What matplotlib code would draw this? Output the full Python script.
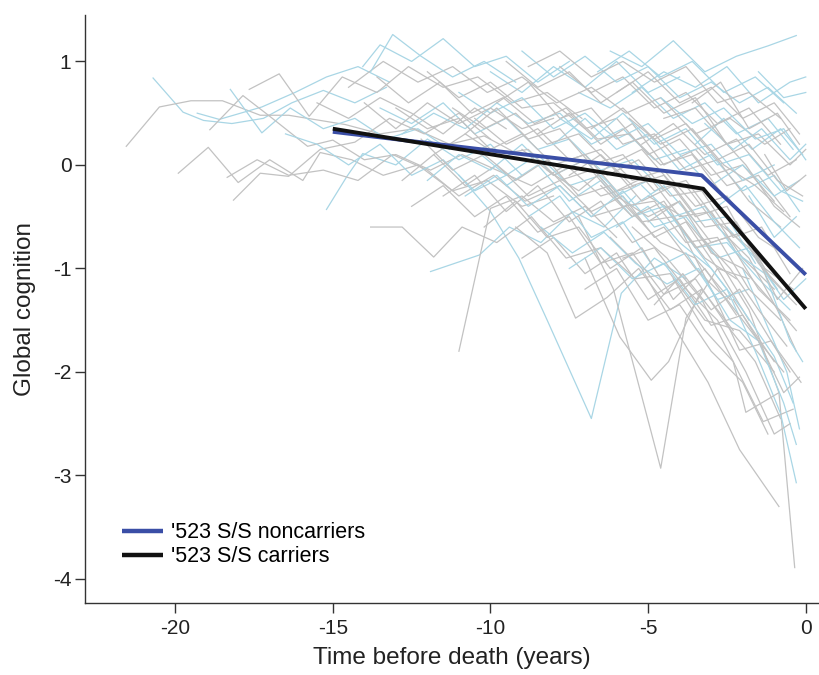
import matplotlib
matplotlib.use("Agg")
import matplotlib.pyplot as plt
import numpy as np

plt.rcParams['font.family'] = ['Liberation Sans', 'DejaVu Sans']

# Mean trajectories (change-point model)
noncarrier_t = [-15.0, -3.3, 0.0]
noncarrier_y = [0.32, -0.10, -1.06]
carrier_t = [-15.0, -3.25, 0.0]
carrier_y = [0.35, -0.23, -1.39]

# Individual trajectories of carriers (grey)
grey_traj = [
    [(-21.55,0.18),(-20.5,0.56),(-19.5,0.62),(-18.5,0.62),(-17.3,0.48),(-16.4,0.48),(-15.4,0.43),(-14.6,0.39),(-13.5,0.3),(-12.4,0.35),(-11.3,0.2),(-10.2,0.28),(-9.1,0.1)],
    [(-19.9,-0.08),(-18.95,0.17),(-18.0,-0.17),(-17.0,0.05),(-15.95,-0.15),(-15.4,0.12),(-14.4,0.05),(-13.4,-0.1),(-12.3,0.0),(-11.2,-0.25),(-10.1,-0.15),(-9.0,-0.4),(-8.0,-0.3)],
    [(-18.15,-0.34),(-17.3,-0.08),(-16.4,-0.11),(-15.4,0.15),(-14.3,0.22),(-13.2,0.45),(-12.1,0.3),(-11.0,0.5),(-10.0,0.25)],
    [(-18.9,0.34),(-17.85,0.67),(-17.0,0.47),(-15.8,0.18),(-15.0,0.24),(-14.0,0.05),(-13.0,0.1),(-11.9,-0.05),(-10.9,0.1),(-9.8,-0.05),(-8.7,-0.2),(-7.6,0.0),(-6.5,-0.3),(-5.4,-0.2)],
    [(-17.65,0.73),(-16.7,0.88),(-15.75,0.47),(-14.7,0.85),(-13.6,0.7),(-12.6,0.95),(-11.5,0.75),(-10.4,0.85),(-9.3,0.6),(-8.2,0.7),(-7.1,0.45)],
    [(-18.35,-0.12),(-17.4,0.05),(-16.4,-0.1),(-15.3,-0.05),(-14.2,-0.15),(-13.1,0.1),(-12.0,-0.05),(-11.0,-0.3),(-9.9,-0.1),(-8.9,-0.35),(-7.8,-0.2),(-6.8,-0.5),(-5.7,-0.4),(-4.6,-0.75),(-3.5,-0.9),(-2.4,-1.3)],
    [(-13.8,-0.6),(-12.8,-0.6),(-11.8,-0.89),(-10.9,-0.6),(-9.8,-0.75),(-8.7,-0.5),(-7.6,-0.9),(-6.5,-0.8),(-5.4,-1.1),(-4.3,-1.05),(-3.2,-1.5),(-2.1,-1.6),(-1.0,-2.0)],
    [(-11.0,-1.8),(-10.0,-0.42),(-9.0,-0.3),(-8.0,-0.55),(-7.0,-0.4),(-6.0,-0.7)],
    [(-7.2,-0.5),(-6.1,-1.2),(-4.6,-2.93),(-3.8,-1.48),(-2.8,-1.0),(-1.8,-1.5)],
    [(-7.0,-0.9),(-5.9,-1.66),(-4.9,-2.08),(-4.35,-1.9),(-3.3,-1.2),(-2.3,-1.6)],
    [(-5.0,-0.3),(-3.9,-0.5),(-2.8,-0.9),(-1.8,-1.4),(-0.85,-2.2),(-0.35,-3.89)],
    [(-6.2,-0.7),(-5.2,-1.0),(-4.1,-1.6),(-3.1,-2.1),(-2.1,-2.75),(-0.85,-3.3)],
    [(-5.5,-0.6),(-4.4,-0.9),(-3.3,-1.3),(-2.3,-1.9),(-1.9,-2.39),(-0.85,-2.2)],
    [(-4.2,-1.1),(-3.2,-1.6),(-2.3,-1.9),(-1.35,-2.48),(-0.4,-2.36)],
    [(-4.0,-0.6),(-3.0,-1.2),(-2.1,-1.79),(-1.1,-1.7),(-0.15,-2.1)],
    [(-12.0,0.9),(-11.0,0.65),(-10.0,0.8),(-9.0,0.55),(-8.0,0.6),(-7.0,0.35),(-6.0,0.45),(-5.0,0.1),(-4.0,0.25),(-3.0,-0.1),(-2.0,0.0),(-1.0,-0.35)],
    [(-14.5,0.75),(-13.4,1.0),(-12.3,0.8),(-11.2,0.95),(-10.1,0.7),(-9.0,0.85),(-7.9,0.6),(-6.8,0.75),(-5.7,0.5),(-4.6,0.65),(-3.5,0.3),(-2.4,0.45),(-1.3,0.2),(-0.5,0.35)],
    [(-10.5,0.45),(-9.5,0.2),(-8.5,0.35),(-7.5,0.05),(-6.5,0.15),(-5.5,-0.15),(-4.5,-0.05),(-3.5,-0.4),(-2.5,-0.3),(-1.5,-0.7),(-0.5,-0.9)],
    [(-9.0,-0.9),(-8.0,-0.7),(-7.0,-1.05),(-6.0,-0.85),(-5.0,-1.3),(-4.0,-1.1),(-3.0,-1.55),(-2.0,-1.45),(-1.0,-1.9)],
    [(-8.5,0.3),(-7.5,0.5),(-6.5,0.2),(-5.5,0.4),(-4.5,0.0),(-3.5,0.15),(-2.5,-0.2),(-1.5,-0.1),(-0.5,-0.5)],
    [(-7.8,0.95),(-6.8,0.7),(-5.8,0.85),(-4.8,0.55),(-3.8,0.7),(-2.8,0.4),(-1.8,0.55),(-0.8,0.2)],
    [(-6.5,-0.2),(-5.5,-0.5),(-4.5,-0.35),(-3.5,-0.8),(-2.5,-0.7),(-1.5,-1.2),(-0.5,-1.5)],
    [(-13.0,0.55),(-12.0,0.35),(-11.0,0.45),(-10.0,0.15),(-9.0,0.3),(-8.0,0.0),(-7.0,0.1),(-6.0,-0.25),(-5.0,-0.1),(-4.0,-0.5),(-3.0,-0.45),(-2.0,-0.9),(-1.0,-1.2)],
    [(-11.5,-0.3),(-10.5,-0.1),(-9.5,-0.45),(-8.5,-0.2),(-7.5,-0.55),(-6.5,-0.35),(-5.5,-0.75),(-4.5,-0.6),(-3.5,-1.0),(-2.5,-1.3),(-1.5,-1.7),(-0.7,-2.0)],
    [(-5.2,0.2),(-4.2,0.4),(-3.2,0.1),(-2.2,0.25),(-1.2,-0.1),(-0.3,0.05)],
    [(-9.8,0.6),(-8.8,0.8),(-7.8,0.45),(-6.8,0.55),(-5.8,0.2),(-4.8,0.3),(-3.8,-0.05),(-2.8,0.05),(-1.8,-0.35),(-0.8,-0.6)],
    [(-3.8,-0.2),(-2.8,-0.6),(-1.8,-0.9),(-0.9,-1.4),(-0.3,-1.8)],
    [(-12.8,-0.15),(-11.8,0.1),(-10.8,-0.2),(-9.8,0.0),(-8.8,-0.3),(-7.8,-0.15),(-6.8,-0.45),(-5.8,-0.3),(-4.8,-0.7),(-3.8,-0.55),(-2.8,-1.0),(-1.8,-1.1)],
    [(-6.0,0.7),(-5.0,0.9),(-4.0,0.6),(-3.0,0.75),(-2.0,0.45),(-1.0,0.6),(-0.2,0.3)],
    [(-2.8,0.3),(-1.9,0.0),(-1.0,-0.4),(-0.2,-0.6)],
    [(-9.2,-0.6),(-8.2,-0.85),(-7.3,-1.48),(-6.3,-1.28),(-5.3,-1.0),(-4.3,-1.4),(-3.3,-1.2)],
    [(-10.8,0.3),(-9.8,0.55),(-8.8,0.25),(-7.8,0.35),(-6.8,0.0),(-5.8,0.1),(-4.8,-0.25),(-3.8,-0.15),(-2.8,-0.55),(-1.8,-0.8),(-0.8,-1.1),(-0.2,-1.3)],
    [(-1.7,-0.8),(-0.9,-1.3),(-0.1,-1.0)],
    [(-4.5,0.45),(-3.5,0.55),(-2.5,0.2),(-1.5,0.3),(-0.5,0.0),(0.0,0.15)],
    [(-7.5,-0.1),(-6.5,0.1),(-5.5,-0.2),(-4.5,-0.1),(-3.5,-0.5),(-2.5,-0.4),(-1.5,-0.95),(-0.6,-1.25)],
    [(-14.0,0.6),(-13.0,0.35),(-12.0,0.6),(-11.0,0.4),(-10.0,0.55),(-9.0,0.35),(-8.0,0.45)],
    [(-3.3,-0.7),(-2.4,-1.0),(-1.5,-1.4),(-0.6,-1.75)],
    [(-5.8,-0.9),(-4.8,-0.8),(-3.8,-1.2),(-2.8,-1.5),(-1.9,-2.0),(-1.0,-2.6),(-0.5,-2.5)],
    [(-11.8,0.1),(-10.8,0.3),(-9.8,0.1),(-8.8,0.15),(-7.8,-0.15),(-6.8,-0.05),(-5.8,-0.4),(-4.8,-0.35),(-3.8,-0.75),(-2.8,-0.7),(-1.8,-1.2),(-0.8,-1.5)],
    [(-13.6,0.85),(-12.6,0.6),(-11.6,0.8),(-10.6,0.5),(-9.6,0.65),(-8.6,0.4),(-7.6,0.55),(-6.6,0.25),(-5.6,0.3),(-4.6,0.0),(-3.6,0.1),(-2.6,-0.3)],
    [(-9.5,1.0),(-8.5,0.75),(-7.5,0.9),(-6.5,0.6),(-5.5,0.8),(-4.5,0.5),(-3.5,0.65),(-2.5,0.2)],
    [(-12.5,-0.4),(-11.5,-0.2),(-10.5,-0.5),(-9.5,-0.3),(-8.5,-0.65),(-7.5,-0.5),(-6.5,-0.95),(-5.5,-0.85),(-4.5,-1.25),(-3.5,-1.1),(-2.5,-1.55),(-1.6,-1.9),(-0.8,-2.45)],
    [(-8.2,-0.05),(-7.2,-0.25),(-6.2,0.0),(-5.2,-0.35),(-4.2,-0.2),(-3.2,-0.6),(-2.2,-0.55),(-1.3,-1.0),(-0.4,-1.2)],
    [(-6.8,0.35),(-5.8,0.55),(-4.8,0.25),(-3.8,0.4),(-2.8,0.05),(-1.8,0.2),(-0.9,-0.15),(-0.1,-0.3)],
    [(-10.2,-0.6),(-9.2,-0.35),(-8.2,-0.7),(-7.2,-0.6),(-6.2,-1.0),(-5.2,-0.8),(-4.2,-1.3),(-3.2,-1.0),(-2.2,-1.45)],
    [(-5.0,-0.55),(-4.0,-0.35),(-3.0,-0.75),(-2.0,-0.65),(-1.1,-1.1),(-0.3,-1.35)],
    [(-15.5,0.6),(-14.5,0.45),(-13.5,0.65),(-12.5,0.5),(-11.5,0.3),(-10.5,0.55),(-9.5,0.35)],
    [(-3.6,0.6),(-2.7,0.8),(-1.8,0.35),(-0.9,0.5),(-0.2,0.2)],
    [(-7.0,-1.2),(-6.0,-1.0),(-5.0,-1.5),(-4.0,-1.35),(-3.0,-1.8),(-2.0,-2.1),(-1.2,-2.6)],
    [(-9.0,0.15),(-8.0,-0.1),(-7.0,0.05),(-6.0,-0.3),(-5.0,-0.5),(-4.0,-0.35),(-3.0,-0.85),(-2.0,-1.0),(-1.0,-1.35),(-0.3,-1.6)],
    [(-11.2,0.55),(-10.2,0.35),(-9.2,0.5),(-8.2,0.2),(-7.2,0.3),(-6.2,0.0),(-5.2,0.15),(-4.2,-0.2),(-3.2,-0.25)],
    [(-2.3,-1.3),(-1.5,-1.7),(-0.7,-2.2),(-0.2,-2.05)],
    [(-4.8,-1.35),(-3.9,-1.05),(-3.0,-1.4),(-2.1,-1.2),(-1.3,-1.6),(-0.5,-2.0)],
    [(-8.8,0.95),(-7.8,1.1),(-6.8,0.85),(-5.8,1.0),(-4.8,0.8),(-3.8,0.95),(-2.8,0.6),(-1.8,0.7),(-0.8,0.45)],
    [(-6.3,-0.1),(-5.3,0.05),(-4.3,-0.3),(-3.3,-0.25),(-2.3,-0.7),(-1.4,-0.6),(-0.5,-1.05)],
    [(-12.2,0.25),(-11.2,-0.05),(-10.2,0.1),(-9.2,-0.15),(-8.2,0.05),(-7.2,-0.3),(-6.2,-0.2),(-5.2,-0.55),(-4.2,-0.5),(-3.2,-0.9),(-2.2,-1.1)],
    [(-1.3,0.1),(-0.6,-0.25),(0.0,-0.1)],
    [(-5.6,0.45),(-4.6,0.2),(-3.6,0.35),(-2.6,0.0),(-1.6,-0.2),(-0.7,-0.45)],
]

# Individual trajectories of noncarriers (light blue)
blue_traj = [
    [(-20.7,0.84),(-19.75,0.51),(-19.1,0.43),(-18.2,0.40),(-17.2,0.45),(-16.3,0.60),(-15.3,0.72),(-14.3,0.6),(-13.3,0.75)],
    [(-19.3,0.5),(-18.6,0.44),(-17.25,0.56),(-16.2,0.7),(-15.2,0.85),(-14.2,0.95),(-13.2,0.8)],
    [(-18.25,0.73),(-17.25,0.31),(-16.35,0.55),(-15.3,0.35),(-14.3,0.45),(-13.3,0.25),(-12.3,0.35),(-11.3,0.15)],
    [(-15.2,-0.43),(-14.55,-0.11),(-14.05,0.11),(-13.0,0.0),(-12.0,0.25),(-11.0,0.05),(-10.0,0.2),(-9.0,-0.1)],
    [(-14.05,0.95),(-13.5,1.16),(-12.5,1.0),(-11.5,1.22),(-10.5,0.95),(-9.5,1.05),(-8.5,0.8),(-7.5,1.0)],
    [(-11.9,-1.03),(-10.35,-0.87),(-9.4,-0.6),(-8.4,-0.75),(-7.4,-0.45),(-6.4,-0.6),(-5.4,-0.3)],
    [(-11.0,-0.1),(-10.0,-0.45),(-9.1,-0.9),(-8.2,-1.5),(-6.8,-2.45),(-5.85,-1.24),(-4.8,-0.9),(-3.8,-1.1)],
    [(-16.5,0.3),(-15.5,0.2),(-14.5,0.0),(-13.5,0.2),(-12.5,-0.1),(-11.5,0.05),(-10.5,-0.25),(-9.5,-0.1)],
    [(-12.8,0.3),(-11.8,0.5),(-10.8,0.35),(-9.8,0.6),(-8.8,0.4),(-7.8,0.5),(-6.8,0.2),(-5.8,0.35),(-4.8,0.05),(-3.8,0.15)],
    [(-6.2,1.1),(-5.2,0.95),(-4.2,1.2),(-3.2,0.9),(-2.2,1.05),(-1.2,1.15),(-0.3,1.25)],
    [(-5.5,0.7),(-4.5,0.9),(-3.5,0.75),(-2.5,0.95),(-1.5,0.6),(-0.5,0.8),(0.0,0.85)],
    [(-8.0,0.2),(-7.0,0.45),(-6.0,0.15),(-5.0,0.3),(-4.0,-0.05),(-3.0,0.1),(-2.0,-0.25),(-1.0,-0.1),(-0.2,-0.45)],
    [(-4.5,-0.4),(-3.5,-0.8),(-2.5,-1.2),(-1.6,-1.8),(-0.8,-2.4),(-0.3,-3.07)],
    [(-9.5,-0.2),(-8.5,0.0),(-7.5,-0.35),(-6.5,-0.15),(-5.5,-0.5),(-4.5,-0.4),(-3.5,-0.8),(-2.5,-0.75),(-1.5,-1.1),(-0.5,-1.4)],
    [(-3.5,0.2),(-2.6,0.45),(-1.7,0.15),(-0.8,0.35),(-0.1,0.1)],
    [(-7.2,0.7),(-6.2,0.55),(-5.2,0.75),(-4.2,0.45),(-3.2,0.6),(-2.2,0.3),(-1.2,0.45),(-0.4,0.15)],
    [(-10.0,0.9),(-9.0,0.7),(-8.0,0.95),(-7.0,0.75),(-6.0,1.0),(-5.0,0.7),(-4.0,0.85)],
    [(-6.0,-0.6),(-5.0,-0.4),(-4.0,-0.75),(-3.0,-1.0),(-2.0,-1.4),(-1.0,-1.85),(-0.4,-2.3)],
    [(-2.5,-0.6),(-1.6,-0.9),(-0.7,-1.3),(0.0,-1.1)],
    [(-13.5,0.55),(-12.5,0.4),(-11.5,0.6),(-10.5,0.3),(-9.5,0.45),(-8.5,0.15),(-7.5,0.25),(-6.5,-0.05),(-5.5,0.05),(-4.5,-0.25)],
    [(-8.8,-0.5),(-7.8,-0.3),(-6.8,-0.7),(-5.8,-0.55),(-4.8,-1.0),(-3.8,-0.85),(-2.8,-1.3),(-1.8,-1.2)],
    [(-4.0,0.1),(-3.0,-0.2),(-2.0,0.0),(-1.0,-0.3),(-0.2,-0.15)],
    [(-3.0,0.8),(-2.1,0.6),(-1.2,0.75),(-0.3,0.5)],
    [(-11.0,0.7),(-10.0,0.5),(-9.0,0.65),(-8.0,0.35),(-7.0,0.5),(-6.0,0.25),(-5.0,0.4),(-4.0,0.1),(-3.0,0.2),(-2.0,-0.15),(-1.0,0.0)],
    [(-1.8,-0.3),(-1.0,-0.7),(-0.3,-0.5)],
    [(-7.5,-1.0),(-6.5,-0.8),(-5.5,-1.1),(-4.5,-0.95),(-3.5,-1.35),(-2.5,-1.2)],
    [(-2.0,-1.0),(-1.3,-1.5),(-0.6,-2.0),(-0.2,-2.55)],
    [(-13.8,0.9),(-13.1,1.26),(-12.2,1.05),(-11.2,0.85),(-10.2,1.0),(-9.2,0.8)],
    [(-9.0,1.1),(-8.0,0.85),(-7.0,1.05),(-6.0,0.8),(-5.0,0.95),(-4.0,0.65),(-3.0,0.8)],
    [(-10.8,-0.3),(-9.8,-0.1),(-8.8,-0.4),(-7.8,-0.2),(-6.8,-0.5),(-5.8,-0.25),(-4.8,-0.6),(-3.8,-0.5),(-2.8,-0.9),(-1.8,-0.8),(-0.9,-1.2)],
    [(-7.8,0.45),(-6.8,0.25),(-5.8,0.5),(-4.8,0.2),(-3.8,0.35),(-2.8,0.0),(-1.8,0.1),(-0.8,-0.25),(-0.1,-0.35)],
    [(-5.2,-0.2),(-4.2,-0.5),(-3.2,-0.4),(-2.2,-0.85),(-1.3,-1.05),(-0.5,-1.7),(-0.1,-1.9)],
    [(-12.0,-0.15),(-11.0,0.1),(-10.0,-0.05),(-9.0,0.2),(-8.0,-0.1),(-7.0,0.05),(-6.0,-0.3),(-5.0,-0.15)],
    [(-3.2,0.4),(-2.3,0.15),(-1.4,0.35),(-0.5,0.05),(0.0,0.2)],
    [(-6.6,0.9),(-5.6,1.1),(-4.6,0.85),(-3.6,1.0),(-2.6,0.7),(-1.6,0.85),(-0.7,0.6)],
    [(-2.8,-0.4),(-1.9,-0.2),(-1.0,-0.55),(-0.2,-0.8)],
    [(-8.4,-0.6),(-7.4,-0.85),(-6.4,-0.65),(-5.4,-0.95),(-4.4,-1.15),(-3.4,-1.0),(-2.4,-1.5),(-1.5,-1.7),(-0.7,-2.3),(-0.3,-2.7)],
    [(-4.6,0.65),(-3.6,0.4),(-2.6,0.55),(-1.6,0.25),(-0.7,0.35),(0.0,0.05)],
    [(-10.5,0.15),(-9.5,-0.1),(-8.5,0.1),(-7.5,-0.2),(-6.5,-0.1),(-5.5,-0.4),(-4.5,-0.2),(-3.5,-0.55),(-2.5,-0.5),(-1.6,-0.95)],
    [(-1.5,0.9),(-0.7,0.65),(0.0,0.7)],
]

legend_labels = ["'523 S/S noncarriers", "'523 S/S carriers"]
x_ticks = [-20, -15, -10, -5, 0]
y_ticks = [1, 0, -1, -2, -3, -4]

fig = plt.figure(figsize=(8.2, 6.75), dpi=100)
ax = fig.add_axes([0.104, 0.107, 0.894, 0.871])

GREY = '#c2c2c2'
LBLUE = '#a9d6e5'

n = max(len(grey_traj), len(blue_traj))
for i in range(n):
    if i < len(blue_traj):
        arr = np.array(blue_traj[i])
        ax.plot(arr[:, 0], arr[:, 1], color=LBLUE, lw=0.9, zorder=2)
    if i < len(grey_traj):
        arr = np.array(grey_traj[i])
        ax.plot(arr[:, 0], arr[:, 1], color=GREY, lw=0.9, zorder=2)

ax.plot(noncarrier_t, noncarrier_y, color='#3a4ea6', lw=2.8, zorder=5,
        label=legend_labels[0], solid_capstyle='butt')
ax.plot(carrier_t, carrier_y, color='#111111', lw=2.8, zorder=6,
        label=legend_labels[1], solid_capstyle='butt')

ax.set_xlim(-22.85, 0.4)
ax.set_ylim(-4.23, 1.45)
ax.set_xticks(x_ticks)
ax.set_xticklabels([str(v) for v in x_ticks])
ax.set_yticks(y_ticks)
ax.set_yticklabels([str(v) for v in y_ticks])

for s in ['top', 'right']:
    ax.spines[s].set_visible(False)
for s in ['left', 'bottom']:
    ax.spines[s].set_color('#333333')
    ax.spines[s].set_linewidth(1.0)

ax.tick_params(axis='both', direction='out', length=7, width=1.0,
               colors='#333333', labelsize=15, labelcolor='#222222')
ax.tick_params(axis='y', pad=3)
ax.tick_params(axis='x', pad=5)

ax.set_xlabel('Time before death (years)', fontsize=17.5, color='#222222', labelpad=6)
ax.set_ylabel('Global cognition', fontsize=17.5, color='#222222', labelpad=12)

leg = ax.legend(loc='lower left', bbox_to_anchor=(0.05, 0.06), frameon=False,
                fontsize=15.5, handlelength=1.9, handletextpad=0.4,
                labelspacing=0.15, borderaxespad=0, borderpad=0)
for line in leg.get_lines():
    line.set_linewidth(3.2)

fig.savefig('out.png', dpi=100)
